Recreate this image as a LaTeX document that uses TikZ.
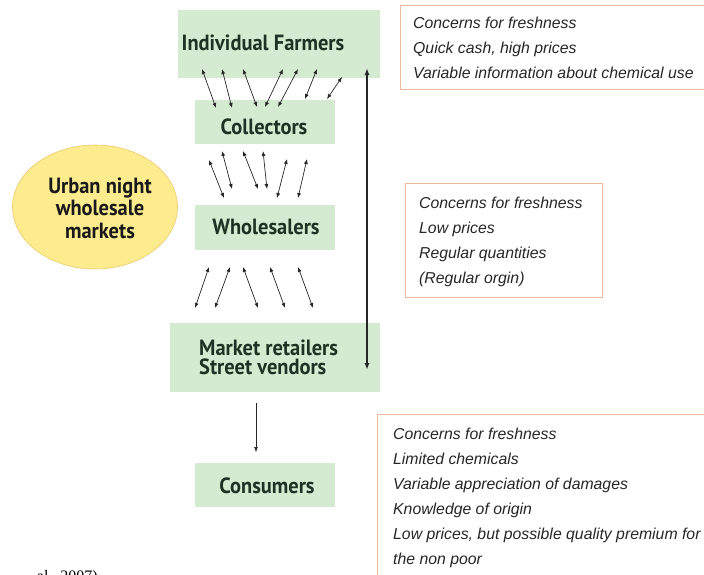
\documentclass[tikz,border=0pt]{standalone}
\usepackage{fontspec}
\setmainfont{Liberation Sans}
\newfontfamily\boxfont[FakeStretch=0.93]{PT Sans}
\newfontfamily\capfont{Liberation Serif}
\usetikzlibrary{arrows.meta,shapes.geometric}
\definecolor{boxgreen}{HTML}{D4EAD1}
\definecolor{boxtext}{HTML}{1E3323}
\definecolor{ellfill}{HTML}{FDEC8E}
\definecolor{elledge}{HTML}{EFC86A}
\definecolor{noteedge}{HTML}{EDB99C}
\begin{document}
\begin{tikzpicture}[x=1pt,y=-1pt,
  gbox/.style={fill=boxgreen, draw=none, inner sep=0pt, anchor=north west},
  glabel/.style={font=\boxfont\bfseries\fontsize{22}{18}\selectfont, text=boxtext, inner sep=0pt, align=left},
  note/.style={draw=noteedge, line width=0.8pt, fill=white, inner sep=0pt, anchor=north west},
  notetext/.style={font=\itshape\fontsize{15.8}{25}\selectfont, align=left, anchor=north west, inner sep=0pt, text=black!85},
  dbl/.style={{Latex[length=5pt,width=4pt]}-{Latex[length=5pt,width=4pt]}, line width=0.7pt, black!85},
  big/.style={{Latex[length=7pt,width=5pt]}-{Latex[length=7pt,width=5pt]}, line width=1.8pt, black!85},
  thin/.style={-{Latex[length=5pt,width=4pt]}, line width=0.6pt, black!85},
  ]
\useasboundingbox (0,0) rectangle (704,574);
\clip (0,0) rectangle (704,574);

% green boxes
\node[gbox, minimum width=202, minimum height=68] (farmers) at (178,10) {};
\node[glabel] (farmersT) at (263,43) {Individual Farmers};
\node[gbox, minimum width=140, minimum height=44] (collectors) at (195,100) {};
\node[glabel] (collectorsT) at (264,127) {Collectors};
\node[gbox, minimum width=140, minimum height=45] (wholesalers) at (195,205) {};
\node[glabel] (wholesalersT) at (266,227) {Wholesalers};
\node[gbox, minimum width=210, minimum height=69] (retailers) at (170,323) {};
\node[glabel, anchor=west, font=\boxfont\bfseries\fontsize{22}{19}\selectfont] (retailersT) at (199,357) {Market retailers\\Street vendors};
\node[gbox, minimum width=140, minimum height=44] (consumers) at (195,463) {};
\node[glabel] (consumersT) at (267,486) {Consumers};

% ellipse
\node[ellipse, fill=ellfill, draw=elledge, line width=0.6pt, minimum width=165, minimum height=124, inner sep=0pt] (urban) at (95,207) {};
\node[glabel, align=center, text=black!90, font=\boxfont\bfseries\fontsize{22}{22.5}\selectfont] (urbanT) at (100,208) {Urban night\\wholesale\\markets};

% long arrow
\coordinate (bigtop) at (367,68);
\coordinate (bigbot) at (367,370);
\draw[big] (bigtop) -- (bigbot);

% thin arrow
\coordinate (thintop) at (256,403);
\coordinate (thinbot) at (256,452);
\draw[thin] (thintop) -- (thinbot);

% farmers - collectors
\foreach \i/\ax/\ay/\bx/\by in {1/202/69/216/108, 2/222/69/232/108, 3/243/69/257/107, 4/283/69/265/107, 5/298/69/278/107, 6/317/69/305/99, 7/342/77/327/99}{
  \coordinate (fa\i) at (\ax,\ay);
  \coordinate (fb\i) at (\bx,\by);
  \draw[dbl] (fa\i) -- (fb\i);
}
% collectors - wholesalers
\foreach \i/\ax/\ay/\bx/\by in {1/209/160/224/198, 2/222/151/232/189, 3/243/151/258/189, 4/263/151/267/189, 5/287/159/277/198, 6/307/159/298/198}{
  \coordinate (ca\i) at (\ax,\ay);
  \coordinate (cb\i) at (\bx,\by);
  \draw[dbl] (ca\i) -- (cb\i);
}
% wholesalers - retailers
\foreach \i/\ax/\ay/\bx/\by in {1/209/267/195/308, 2/230/267/215/308, 3/243/267/258/308, 4/270/267/285/308, 5/298/267/313/308}{
  \coordinate (wa\i) at (\ax,\ay);
  \coordinate (wb\i) at (\bx,\by);
  \draw[dbl] (wa\i) -- (wb\i);
}

% notes
\node[note, minimum width=312, minimum height=84] (note1) at (400,5) {};
\node[notetext] (note1T) at (413,16.5) {Concerns for freshness\\Quick cash, high prices\\Variable information about chemical use};
\node[note, minimum width=197, minimum height=114] (note2) at (405,183) {};
\node[notetext] (note2T) at (419,196.5) {Concerns for freshness\\Low prices\\Regular quantities\\(Regular orgin)};
\node[note, minimum width=335, minimum height=170] (note3) at (377,414) {};
\node[notetext] (note3T) at (393,427.5) {Concerns for freshness\\Limited chemicals\\Variable appreciation of damages\\Knowledge of origin\\Low prices, but possible quality premium for\\the non poor};

% cut caption
\node[font=\capfont\fontsize{16}{16}\selectfont, anchor=base east, inner sep=0pt] (caption) at (98,581) {al., 2007)};
\end{tikzpicture}
\end{document}
